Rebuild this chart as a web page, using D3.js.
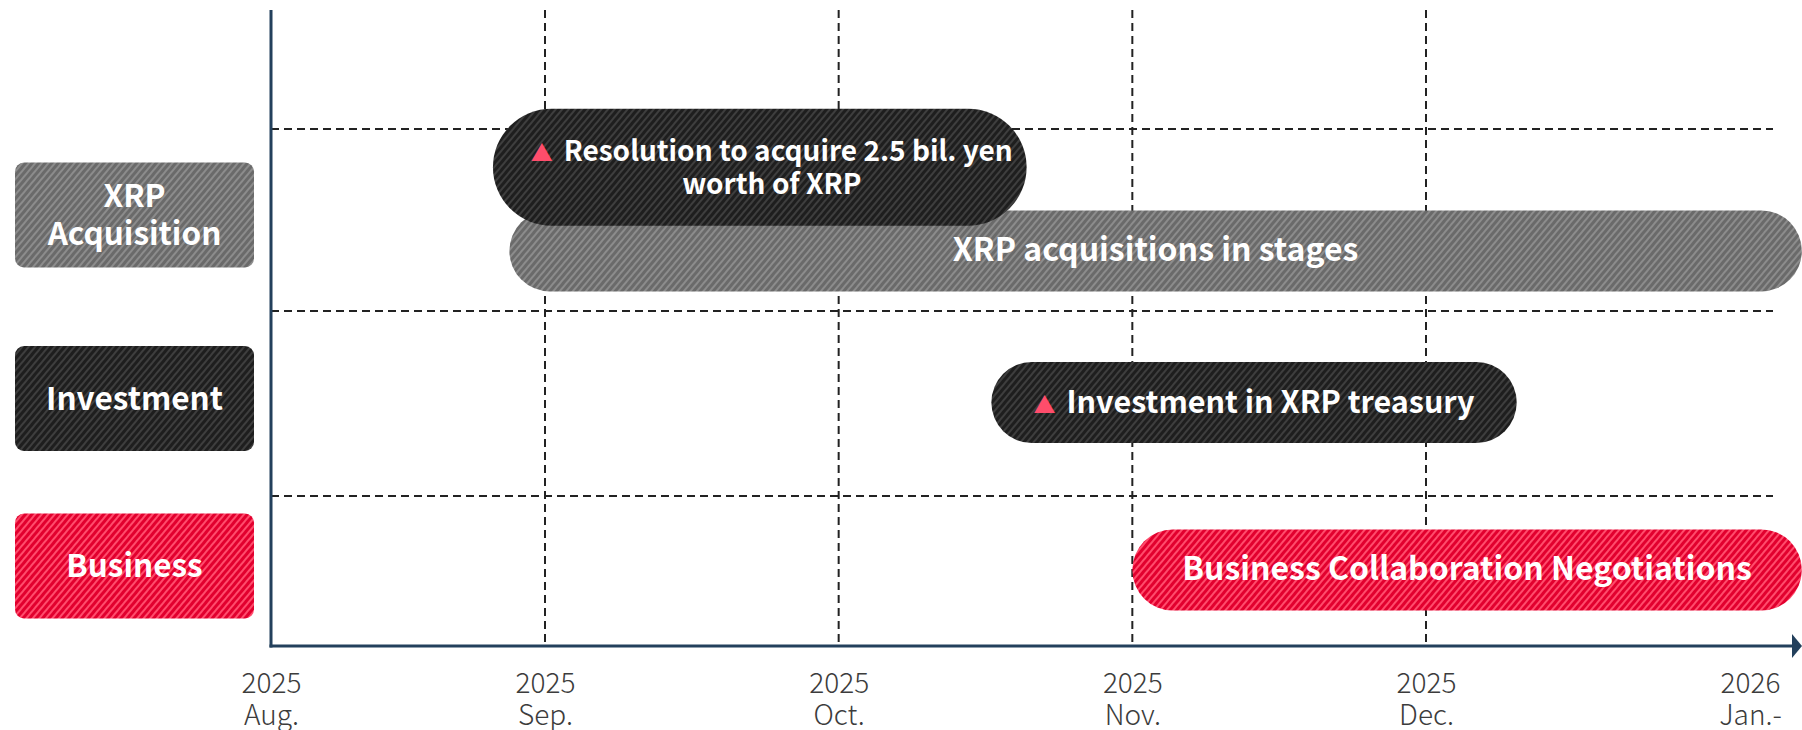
<!DOCTYPE html>
<html>
<head>
<meta charset="utf-8">
<script src="https://cdn.jsdelivr.net/npm/d3@7"></script>
<style>
  body { margin: 0; background: #fff; }
  svg { display: block; }
</style>
</head>
<body>
<div id="chart"></div>
<script>
// months on the time axis (0 = Aug. 2025)
const tickYears = ["2025", "2025", "2025", "2025", "2025", "2026"];
const tickMonths = ["Aug.", "Sep.", "Oct.", "Nov.", "Dec.", "Jan.-"];

// rows
const categories = ["XRP Acquisition", "Investment", "Business"];
const categoryLines = [["XRP", "Acquisition"], ["Investment"], ["Business"]];

// bars: start / end in months from Aug. 2025
const barLines = [
    ["Resolution to acquire 2.5 bil. yen", "worth of XRP"],
    ["XRP acquisitions in stages"],
    ["Investment in XRP treasury"],
    ["Business Collaboration Negotiations"]
];
const barRow = [0, 0, 1, 2];
const barStart = [0.81, 0.87, 2.52, 3.0];
const barEnd = [2.64, 5.16, 4.28, 5.16];
const barMilestone = [true, false, true, false];

const W = 1802, H = 730;
const FONT = "'Noto Sans CJK JP', 'Noto Sans', sans-serif";

// 色の設定
const tones = {
    gray: ["#6a6a6a", "#8c8c8c"],
    dark: ["#1e1e1e", "#3e3e3e"],
    red: ["#e2002e", "#ff4c6c"]
};
const rowTone = ["gray", "dark", "red"];

const svg = d3.select("#chart").append("svg")
    .attr("width", W).attr("height", H);

// 斜線パターン
const defs = svg.append("defs");
Object.keys(tones).forEach(function (k) {
    let p = defs.append("pattern")
        .attr("id", "hatch-" + k)
        .attr("patternUnits", "userSpaceOnUse")
        .attr("width", 5).attr("height", 5)
        .attr("patternTransform", "rotate(40)");
    p.append("rect").attr("width", 5).attr("height", 5).attr("fill", tones[k][0]);
    p.append("rect").attr("width", 2).attr("height", 5).attr("fill", tones[k][1]);
});

// scales
const x = d3.scaleLinear().domain([0, 1, 4, 5]).range([271, 545, 1426, 1750]);
const y = d3.scaleLinear().domain([0, 1, 2, 3]).range([129, 311, 496, 646]);
const axisY = y(3);
const topY = 10;

// grid
const grid = svg.append("g");
grid.selectAll("line.v")
    .data(d3.range(1, 5))
    .join("line").attr("class", "v")
    .attr("x1", d => x(d)).attr("x2", d => x(d))
    .attr("y1", topY).attr("y2", axisY)
    .attr("stroke", "#222").attr("stroke-width", 2)
    .attr("stroke-dasharray", "8,5");
grid.selectAll("line.h")
    .data(d3.range(0, 3))
    .join("line").attr("class", "h")
    .attr("x1", x(0)).attr("x2", 1773)
    .attr("y1", d => y(d)).attr("y2", d => y(d))
    .attr("stroke", "#222").attr("stroke-width", 2)
    .attr("stroke-dasharray", "8,5");

// row label boxes
const boxW = 239, boxH = 105;
const rowG = svg.append("g").selectAll("g")
    .data(categories)
    .join("g")
    .attr("transform", (d, i) => `translate(15, ${y(i + 0.5) - 5 - boxH / 2})`);
rowG.append("rect")
    .attr("width", boxW).attr("height", boxH).attr("rx", 9)
    .attr("fill", (d, i) => `url(#hatch-${rowTone[i]})`);
rowG.append("text")
    .attr("text-anchor", "middle")
    .attr("fill", "#fff")
    .style("font-family", FONT).style("font-weight", 700).style("font-size", "31.5px")
    .each(function (d, i) {
        let lines = categoryLines[i];
        let t = d3.select(this);
        lines.forEach(function (s, j) {
            t.append("tspan")
                .attr("x", boxW / 2)
                .attr("y", boxH / 2 + 11 + (j - (lines.length - 1) / 2) * 38)
                .text(s);
        });
    });

// bars
const bars = barLines.map(function (lines, i) {
    let row = barRow[i];
    let shared = barRow.filter(r => r === row).length > 1;
    let cy;
    if (shared) cy = barMilestone[i] ? y(row + 0.21) : y(row + 0.67);
    else cy = y(row + 0.5) - 1;
    let h = lines.length > 1 ? 117 : 81;
    return {
        lines: lines, milestone: barMilestone[i],
        x0: x(barStart[i]), x1: x(barEnd[i]), cy: cy, h: h,
        tone: barMilestone[i] ? "dark" : rowTone[row]
    };
});
// 期間バーを先に、マイルストーンを上に描く
const order = bars.filter(b => !b.milestone).concat(bars.filter(b => b.milestone));

const barG = svg.append("g").selectAll("g")
    .data(order)
    .join("g");
barG.append("rect")
    .attr("x", d => d.x0).attr("y", d => d.cy - d.h / 2)
    .attr("width", d => d.x1 - d.x0).attr("height", d => d.h)
    .attr("rx", d => d.h / 2)
    .attr("fill", d => `url(#hatch-${d.tone})`);
barG.append("text")
    .attr("text-anchor", "middle")
    .attr("fill", "#fff")
    .style("font-family", FONT).style("font-weight", 700)
    .style("font-size", d => d.lines.length > 1 ? "28px" : (d.milestone ? "30.5px" : "32px"))
    .each(function (d) {
        let t = d3.select(this);
        let cx = (d.x0 + d.x1) / 2 + (d.lines.length > 1 ? 12 : 0);
        d.lines.forEach(function (s, j) {
            let ts = t.append("tspan")
                .attr("x", cx)
                .attr("y", d.cy + 10 + (j - (d.lines.length - 1) / 2) * 33);
            if (d.milestone && j === 0) {
                ts.append("tspan").attr("fill", "#ff4d6b")
                    .style("font-size", "22px").text("▲");
                ts.append("tspan").attr("dx", 11).text(s);
            } else {
                ts.text(s);
            }
        });
    });

// axes
const axisColor = "#23405c";
svg.append("line")
    .attr("x1", x(0)).attr("x2", x(0))
    .attr("y1", topY).attr("y2", axisY + 1.5)
    .attr("stroke", axisColor).attr("stroke-width", 3);
svg.append("line")
    .attr("x1", x(0) - 1.5).attr("x2", 1796)
    .attr("y1", axisY).attr("y2", axisY)
    .attr("stroke", axisColor).attr("stroke-width", 3);
svg.append("path")
    .attr("d", `M1792,${axisY - 12}L1802,${axisY}L1792,${axisY + 12}Z`)
    .attr("fill", axisColor);

const xAxis = svg.append("g")
    .attr("transform", `translate(0, ${axisY})`)
    .call(d3.axisBottom(x).tickValues(d3.range(0, 6)).tickSize(0).tickFormat(""));
xAxis.select(".domain").remove();
xAxis.selectAll(".tick text").remove();
xAxis.selectAll(".tick").append("text")
    .attr("text-anchor", "middle")
    .attr("fill", "#3c3c3c")
    .style("font-family", FONT).style("font-weight", 300).style("font-size", "28px")
    .each(function (d) {
        let t = d3.select(this);
        t.append("tspan").attr("x", 0).attr("y", 47).text(tickYears[d]);
        t.append("tspan").attr("x", 0).attr("y", 79).text(tickMonths[d]);
    });
</script>
</body>
</html>
